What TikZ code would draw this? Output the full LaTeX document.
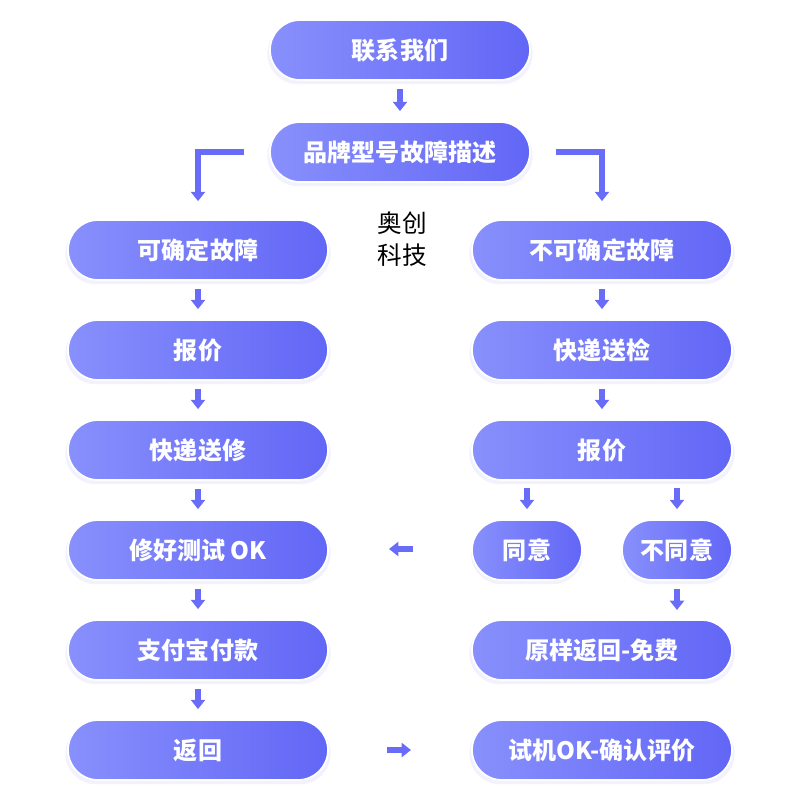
\documentclass[tikz,border=0pt]{standalone}
\usepackage{fontspec}
\newfontfamily\cjk{Noto Sans CJK SC}
\usetikzlibrary{arrows.meta,shadows}
\definecolor{arrc}{RGB}{104,108,246}
\definecolor{gl}{RGB}{136,144,252}
\definecolor{gm}{RGB}{150,158,255}
\definecolor{gr}{RGB}{98,102,246}
\definecolor{shc}{RGB}{120,125,240}
\tikzset{
  pill/.style={rectangle, minimum width=7.8cm, minimum height=1.8cm, inner sep=0pt,
    rounded corners=0.9cm, left color=gl, middle color=gm, right color=gr, draw=white, line width=1.5pt,
    text=white, font=\cjk\bfseries\fontsize{20.5}{22}\selectfont,
    drop shadow={shadow xshift=0pt, shadow yshift=-3pt, shadow scale=1.02, opacity=0.10, fill=shc}},
  spill/.style={pill, minimum width=3.3cm},
  arr/.style={draw=arrc, line width=0.16cm, line join=miter,
    -{Triangle[width=0.42cm,length=0.28cm]}},
  dn/.style={arr, shorten <=0.24cm, shorten >=0.3cm}
}
\begin{document}
\begin{tikzpicture}[x=0.03cm,y=-0.03cm]
\useasboundingbox (0,0) rectangle (800,800);
\node[pill] (t1) at (400,50) {联系我们};
\node[pill] (t2) at (400,152) {品牌型号故障描述};
\node[pill] (l1) at (198,250) {可确定故障};
\node[pill] (l2) at (198,350) {报价};
\node[pill] (l3) at (198,450) {快递送修};
\node[pill] (l4) at (198,550) {修好测试 OK};
\node[pill] (l5) at (198,650) {支付宝付款};
\node[pill] (l6) at (198,750) {返回};
\node[pill] (r1) at (602,250) {不可确定故障};
\node[pill] (r2) at (602,350) {快递送检};
\node[pill] (r3) at (602,450) {报价};
\node[spill] (ra) at (527,550) {同意};
\node[spill] (rb) at (677,550) {不同意};
\node[pill] (r5) at (602,650) {原样返回-免费};
\node[pill] (r6) at (602,750) {试机OK-确认评价};
\node[align=center, font=\cjk\fontsize{21}{27}\selectfont, inner sep=0pt] (brand) at (402,239) {奥创\\科技};
\draw[dn] (t1.south) -- (t2.north);
\draw[dn] (l1.south) -- (l2.north);
\draw[dn] (l2.south) -- (l3.north);
\draw[dn] (l3.south) -- (l4.north);
\draw[dn] (l4.south) -- (l5.north);
\draw[dn] (l5.south) -- (l6.north);
\draw[dn] (r1.south) -- (r2.north);
\draw[dn] (r2.south) -- (r3.north);
\coordinate (cc) at (677,620);
\draw[dn] (rb.south) -- (cc);
\coordinate (ca) at (527,480);
\coordinate (cb) at (677,480);
\draw[dn] (ca) -- (ra.north);
\draw[dn] (cb) -- (rb.north);
\draw[arr] ([xshift=-0.75cm]t2.west) -| ([yshift=0.54cm]l1.north);
\draw[arr] ([xshift=0.75cm]t2.east) -| ([yshift=0.54cm]r1.north);
\coordinate (la) at (413,549);
\coordinate (lb) at (389,549);
\draw[arr] (la) -- (lb);
\coordinate (ma) at (387,750);
\coordinate (mb) at (411,750);
\draw[arr] (ma) -- (mb);
\end{tikzpicture}
\end{document}
